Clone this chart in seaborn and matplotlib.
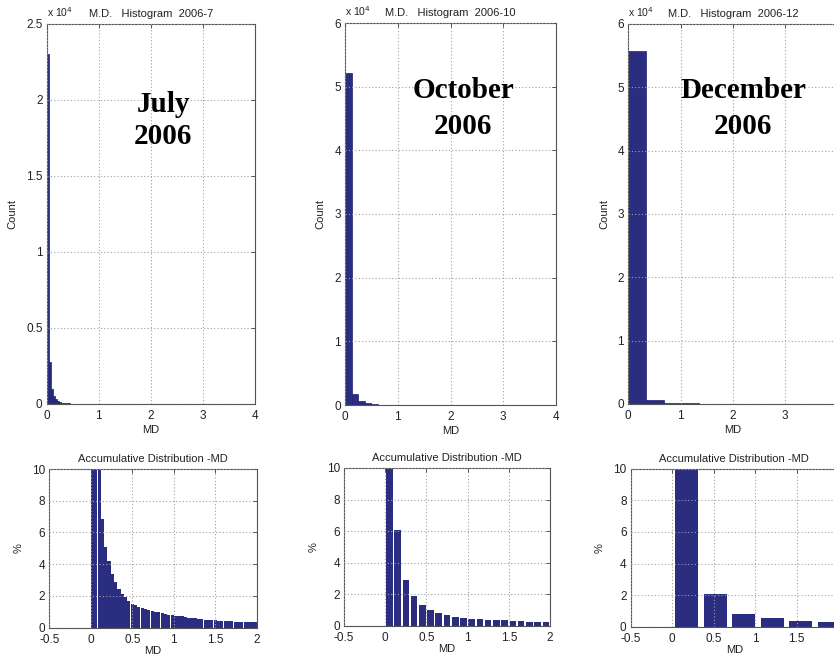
import numpy as np
import pandas as pd
import matplotlib
matplotlib.use("Agg")
import matplotlib.pyplot as plt
from matplotlib.ticker import FuncFormatter, FixedLocator
import seaborn as sns

# ---- data -------------------------------------------------------------
months = ["2006-7", "2006-10", "2006-12"]
month_names = ["July\n2006", "October\n2006", "December\n2006"]

# top row: M.D. histograms (counts), bin widths in MD units
hist_bin_width = [0.04, 0.125, 0.338]
july_counts = [23000, 2750, 1000, 500, 300, 200, 130, 90, 60, 45, 35, 25, 20, 15, 10]
october_counts = [52200, 1800, 650, 280, 120]
december_counts = [55800, 650, 180, 90]
hist_counts = [july_counts, october_counts, december_counts]
hist_ymax = [2.5e4, 6e4, 6e4]
hist_yticks = [[0, 0.5e4, 1e4, 1.5e4, 2e4, 2.5e4],
               [0, 1e4, 2e4, 3e4, 4e4, 5e4, 6e4],
               [0, 1e4, 2e4, 3e4, 4e4, 5e4, 6e4]]

# bottom row: distribution in percent per bin
pct_bin_width = [0.04, 0.1, 0.345]
july_pct = [24.0, 12.5, 10.6,
            6.85, 5.1, 4.2, 3.4, 2.85, 2.4, 2.1, 1.9, 1.7, 1.5,
            1.4, 1.3, 1.2, 1.15, 1.1, 1.05, 1.0, 0.95, 0.9, 0.85, 0.82, 0.8,
            0.75, 0.72, 0.7, 0.65, 0.62, 0.6, 0.58, 0.55, 0.53, 0.5, 0.48, 0.46, 0.45,
            0.44, 0.42, 0.4, 0.4, 0.38, 0.37, 0.36, 0.35, 0.34, 0.33, 0.33, 0.32]
october_pct = [70.0, 6.05, 2.9, 1.9, 1.35, 1.0, 0.8, 0.7, 0.55, 0.5,
               0.45, 0.42, 0.4, 0.38, 0.35, 0.32, 0.3, 0.28, 0.26, 0.25]
december_pct = [92.0, 2.1, 0.82, 0.55, 0.35, 0.27]
pct_values = [july_pct, october_pct, december_pct]

top_xticks = [0, 1, 2, 3, 4]
bottom_xticks = [-0.5, 0, 0.5, 1, 1.5, 2]
bottom_yticks = [0, 2, 4, 6, 8, 10]

# ---- style ------------------------------------------------------------
sns.set_style("white")
plt.rcParams["font.family"] = ["Liberation Sans", "DejaVu Sans"]
BAR = "#2a2d80"
EDGE = "#1e2070"
TXT = "#222222"

W, H = 834, 657
fig = plt.figure(figsize=(W / 100, H / 100), dpi=100)
fig.patch.set_facecolor("white")


def box(l, r, t, b):
    return [l / W, 1 - b / H, (r - l) / W, (b - t) / H]


top_boxes = [box(46.7, 255, 24, 404), box(345, 556, 23, 405), box(628.3, 837.5, 24, 404)]
bottom_boxes = [box(49.3, 256.7, 469, 627.5), box(344, 550, 468, 626), box(630.7, 838, 468.7, 626.7)]
label_pos = [(163, 104, 137), (463, 91, 126), (743, 91, 126)]
bar_shrink = [0.93, 0.8, 0.8]


def style_axes(ax):
    ax.grid(True, linestyle=(0, (1, 2)), color="#a0a0a0", linewidth=0.8)
    ax.set_axisbelow(False)
    for s in ax.spines.values():
        s.set_color("#555555")
        s.set_linewidth(0.8)
        s.set_visible(True)
    ax.tick_params(direction="in", length=3, width=0.7, colors="#555555",
                   labelcolor=TXT, labelsize=8.5, top=True, right=True, pad=3)
    ax.tick_params(axis="x", pad=4.5)


def binned_frame(values, width):
    vals = np.asarray(values, dtype=float)
    centers = (np.arange(len(vals)) + 0.5) * width
    return pd.DataFrame({"md": centers, "n": vals})


fmt = FuncFormatter(lambda v, p: "%g" % (v / 1e4))

for i in range(3):
    # histogram of counts
    ax = fig.add_axes(top_boxes[i])
    w = hist_bin_width[i]
    df = binned_frame(hist_counts[i], w)
    sns.histplot(data=df, x="md", weights="n", binwidth=w,
                 binrange=(0, len(df) * w), ax=ax, color=BAR,
                 alpha=1, edgecolor=EDGE, linewidth=0.5)
    ax.set_xlim(0, 4)
    ax.set_ylim(0, hist_ymax[i])
    ax.xaxis.set_major_locator(FixedLocator(top_xticks))
    ax.yaxis.set_major_locator(FixedLocator(hist_yticks[i]))
    ax.yaxis.set_major_formatter(fmt)
    style_axes(ax)
    ax.set_xlabel("MD", fontsize=8, color=TXT, labelpad=2)
    ax.set_ylabel("Count", fontsize=8, color=TXT, labelpad=6)
    ax.set_title("M.D.   Histogram  " + months[i], fontsize=8, color=TXT, pad=5)
    ax.text(0, 1.012, r"x 10$^{4}$", transform=ax.transAxes, fontsize=7.5,
            color=TXT, ha="left", va="bottom")
    cx, y1, y2 = label_pos[i]
    name, year = month_names[i].split("\n")
    for txt, yy in ((name, y1), (year, y2)):
        fig.text(cx / W, 1 - yy / H, txt, ha="center", va="center",
                 fontsize=21, fontweight="bold", color="black",
                 family=["Liberation Serif", "DejaVu Serif"])

    # distribution in percent
    bx = fig.add_axes(bottom_boxes[i])
    w = pct_bin_width[i]
    dp = binned_frame(pct_values[i], w)
    sns.histplot(data=dp, x="md", weights="n", binwidth=w,
                 binrange=(0, len(dp) * w), ax=bx, color=BAR,
                 alpha=1, edgecolor="none", linewidth=0, shrink=bar_shrink[i])
    bx.set_xlim(-0.5, 2)
    bx.set_ylim(0, 10)
    bx.xaxis.set_major_locator(FixedLocator(bottom_xticks))
    bx.yaxis.set_major_locator(FixedLocator(bottom_yticks))
    bx.xaxis.set_major_formatter(FuncFormatter(lambda v, p: "%g" % v))
    style_axes(bx)
    bx.set_xlabel("MD", fontsize=8, color=TXT, labelpad=0)
    bx.set_ylabel("%", fontsize=8, color=TXT, labelpad=6)
    bx.set_title("Accumulative Distribution -MD", fontsize=8, color=TXT, pad=5)

fig.savefig("out.png", dpi=100, facecolor="white")
